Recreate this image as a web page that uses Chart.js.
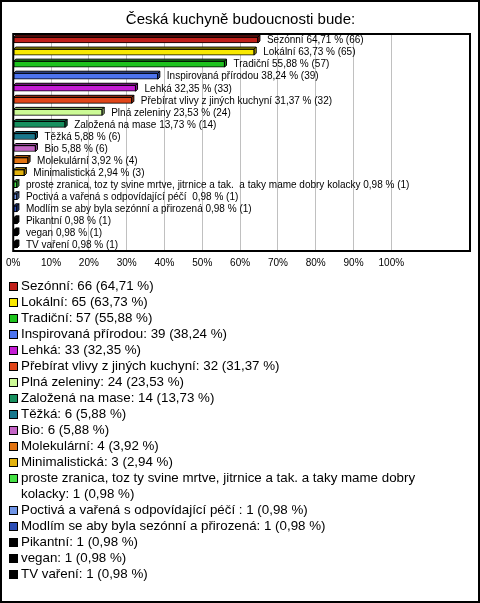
<!DOCTYPE html>
<html><head><meta charset="utf-8">
<script src="https://cdn.jsdelivr.net/npm/chart.js@4"></script>
<style>
html,body{margin:0;padding:0;background:#fff;}
#wrap{position:relative;width:480px;height:603px;overflow:hidden;font-family:'Liberation Sans',Arial,sans-serif;background:#fff;}
#cbox{position:absolute;left:0;top:0;width:480px;height:282px;}
#legend{position:absolute;left:0;top:278px;width:458px;font-size:13.33px;line-height:16px;color:#000;}
.item{position:relative;padding-left:21px;}
.sw{position:absolute;left:9px;top:4px;width:7px;height:7px;border:1px solid #000;}
#frame{position:absolute;left:0;top:0;width:480px;height:603px;box-sizing:border-box;border:2px solid #000;pointer-events:none;}
</style></head>
<body>
<div id="wrap">
<div id="cbox"><canvas id="c"></canvas></div>
<div id="legend"></div>
<div id="frame"></div>
</div>
<script>
const chartTitle = 'Česká kuchyně budoucnosti bude:';
const categories = [
  'Sezónní',
  'Lokální',
  'Tradiční',
  'Inspirovaná přírodou',
  'Lehká',
  'Přebírat vlivy z jiných kuchyní',
  'Plná zeleniny',
  'Založená na mase',
  'Těžká',
  'Bio',
  'Molekulární',
  'Minimalistická',
  'proste zranica, toz ty svine mrtve, jitrnice a tak.  a taky mame dobry kolacky',
  'Poctivá a vařená s odpovídající péčí ',
  'Modlím se aby byla sezónní a přirozená',
  'Pikantní',
  'vegan',
  'TV vaření'
];
const counts = [66, 65, 57, 39, 33, 32, 24, 14, 6, 6, 4, 3, 1, 1, 1, 1, 1, 1];
const percents = [64.71, 63.73, 55.88, 38.24, 32.35, 31.37, 23.53, 13.73, 5.88, 5.88, 3.92, 2.94, 0.98, 0.98, 0.98, 0.98, 0.98, 0.98];
const colors = ['#c0201a', '#f8e800', '#1ec31e', '#4d74ee', '#c41cd4', '#e0461a', '#ccfa96', '#17905f', '#17788d', '#c464c6', '#e27412', '#e2b20e', '#44e044', '#6f94e6', '#2b4db5', '#000000', '#000000', '#000000'];
const tickValues = [0, 10, 20, 30, 40, 50, 60, 70, 80, 90, 100];

const fmt = p => p.toFixed(2).replace('.', ',');

// HTML legend built from the arrays
const leg = document.getElementById('legend');
categories.forEach((c, i) => {
  const d = document.createElement('div');
  d.className = 'item';
  const s = document.createElement('span');
  s.className = 'sw';
  s.style.background = colors[i];
  d.appendChild(s);
  d.appendChild(document.createTextNode(c + ': ' + counts[i] + ' (' + fmt(percents[i]) + ' %)'));
  leg.appendChild(d);
});

function shade(hex, f) {
  const n = parseInt(hex.slice(1), 16);
  const r = Math.round(((n >> 16) & 255) * f), g = Math.round(((n >> 8) & 255) * f), b = Math.round((n & 255) * f);
  return 'rgb(' + r + ',' + g + ',' + b + ')';
}

const bar3d = {
  id: 'bar3d',
  afterDatasetsDraw(chart) {
    const ctx = chart.ctx;
    const meta = chart.getDatasetMeta(0);
    const d = 2;
    ctx.save();
    ctx.lineWidth = 1;
    ctx.strokeStyle = '#000';
    meta.data.forEach((el, i) => {
      const p = el.getProps(['x', 'y', 'base', 'height'], true);
      const x0 = p.base, x1 = p.x, yT = p.y - p.height / 2, yB = p.y + p.height / 2;
      const c = shade(colors[i], 0.75);
      ctx.fillStyle = c;
      ctx.beginPath();
      ctx.moveTo(x0, yT); ctx.lineTo(x0 + d, yT - d); ctx.lineTo(x1 + d, yT - d); ctx.lineTo(x1, yT); ctx.closePath();
      ctx.fill(); ctx.stroke();
      ctx.beginPath();
      ctx.moveTo(x1, yT); ctx.lineTo(x1 + d, yT - d); ctx.lineTo(x1 + d, yB - d); ctx.lineTo(x1, yB); ctx.closePath();
      ctx.fill(); ctx.stroke();
      ctx.fillStyle = '#000';
      ctx.font = "10px 'Liberation Sans', Arial, sans-serif";
      ctx.textBaseline = 'middle';
      ctx.textAlign = 'left';
      ctx.fillText(categories[i] + ' ' + fmt(percents[i]) + ' % (' + counts[i] + ')', x1 + d + 7, p.y + 0.5);
    });
    const a = chart.chartArea;
    ctx.lineWidth = 2;
    ctx.strokeRect(a.left, a.top, a.right - a.left, a.bottom - a.top);
    ctx.restore();
  }
};

Chart.defaults.font.family = "'Liberation Sans', Arial, sans-serif";
new Chart(document.getElementById('c'), {
  type: 'bar',
  data: {
    labels: categories,
    datasets: [{
      data: percents,
      backgroundColor: colors,
      borderColor: '#000',
      borderWidth: 1,
      borderSkipped: false,
      barThickness: 6
    }]
  },
  options: {
    indexAxis: 'y',
    responsive: true,
    maintainAspectRatio: false,
    animation: false,
    layout: { padding: { left: 11, right: 10, top: 0, bottom: 7 } },
    plugins: {
      legend: { display: false },
      tooltip: { enabled: false },
      title: {
        display: true, text: chartTitle, color: '#000',
        font: { size: 15, weight: 'normal' },
        padding: { top: 11, bottom: 5 }
      }
    },
    scales: {
      x: {
        type: 'linear', min: 0, max: 120.8,
        afterBuildTicks(s) { s.ticks = tickValues.map(v => ({ value: v })); },
        ticks: { callback: v => v + '%', color: '#000', font: { size: 10 }, padding: 6, autoSkip: false, maxRotation: 0 },
        grid: { color: '#c0c0c0', drawTicks: false, lineWidth: 1 },
        border: { display: false }
      },
      y: { type: 'category', display: false }
    }
  },
  plugins: [bar3d]
});
</script>
</body></html>
